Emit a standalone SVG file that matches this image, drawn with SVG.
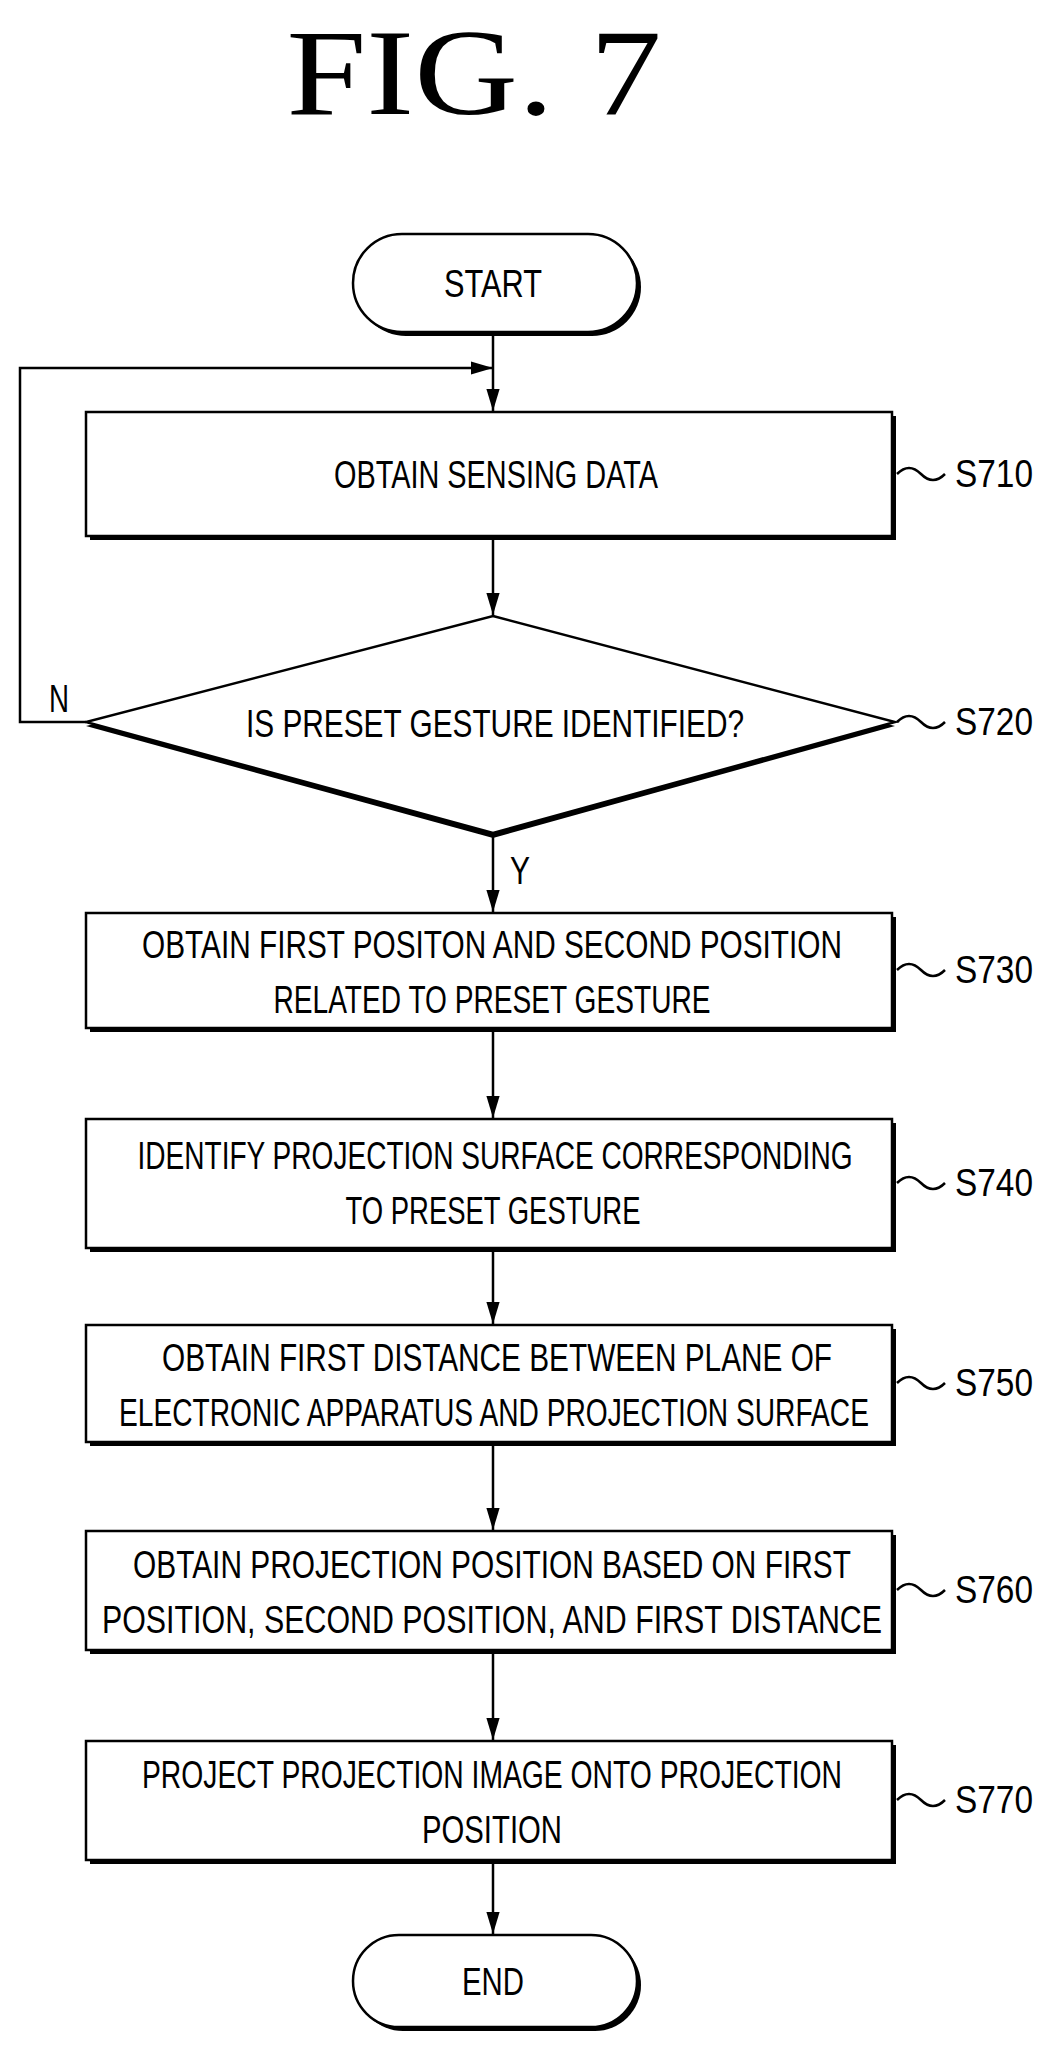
<svg xmlns="http://www.w3.org/2000/svg" width="1053" height="2064" viewBox="0 0 1053 2064">
<style>
.b{fill:#fff;stroke:#000;stroke-width:2.5}
.s{fill:#000}
.t{font-family:"Liberation Sans",sans-serif;font-size:39px;text-anchor:middle;fill:#000}
.l{fill:none;stroke:#000;stroke-width:2.5}
</style>
<defs>
<marker id="ar" viewBox="0 0 10 10" refX="10" refY="5" markerWidth="22" markerHeight="22" markerUnits="userSpaceOnUse" orient="auto"><path d="M0,2 L10,5 L0,8 z" fill="#000"/></marker>
</defs>
<text x="474" y="114" font-family="Liberation Serif,serif" font-size="122" text-anchor="middle" textLength="375" lengthAdjust="spacingAndGlyphs">FIG. 7</text>
<g id="connectors">
<line class="l" x1="493" y1="332" x2="493" y2="411" marker-end="url(#ar)"/>
<polyline class="l" points="86,722 20,722 20,368 493,368" marker-end="url(#ar)"/>
<line class="l" x1="493" y1="536" x2="493" y2="615" marker-end="url(#ar)"/>
<line class="l" x1="493" y1="833" x2="493" y2="912" marker-end="url(#ar)"/>
<line class="l" x1="493" y1="1028" x2="493" y2="1118" marker-end="url(#ar)"/>
<line class="l" x1="493" y1="1248" x2="493" y2="1324" marker-end="url(#ar)"/>
<line class="l" x1="493" y1="1442" x2="493" y2="1530" marker-end="url(#ar)"/>
<line class="l" x1="493" y1="1650" x2="493" y2="1740" marker-end="url(#ar)"/>
<line class="l" x1="493" y1="1860" x2="493" y2="1934" marker-end="url(#ar)"/>
<text class="t" x="59" y="712" textLength="20" lengthAdjust="spacingAndGlyphs">N</text>
<text class="t" x="520" y="884" textLength="20" lengthAdjust="spacingAndGlyphs">Y</text>
</g>
<g id="start"><rect class="s" x="357" y="238" width="284" height="98" rx="49"/><rect class="b" x="353" y="234" width="284" height="98" rx="49"/><text class="t" x="493" y="297" textLength="98" lengthAdjust="spacingAndGlyphs">START</text></g>
<g id="s710"><rect class="s" x="90" y="416" width="806" height="124"/><rect class="b" x="86" y="412" width="806" height="124"/><text class="t" x="496" y="488" textLength="324" lengthAdjust="spacingAndGlyphs">OBTAIN SENSING DATA</text></g>
<g id="s720"><polygon class="s" points="493,622 895,726 493,838 86,726"/><polygon class="b" points="493,616 895,722 493,833 86,722"/><text class="t" x="495" y="737" textLength="498" lengthAdjust="spacingAndGlyphs">IS PRESET GESTURE IDENTIFIED?</text></g>
<g id="s730"><rect class="s" x="90" y="917" width="806" height="115"/><rect class="b" x="86" y="913" width="806" height="115"/><text class="t" x="492" y="958" textLength="700" lengthAdjust="spacingAndGlyphs">OBTAIN FIRST POSITON AND SECOND POSITION</text><text class="t" x="492" y="1013" textLength="437" lengthAdjust="spacingAndGlyphs">RELATED TO PRESET GESTURE</text></g>
<g id="s740"><rect class="s" x="90" y="1123" width="806" height="129"/><rect class="b" x="86" y="1119" width="806" height="129"/><text class="t" x="495" y="1169" textLength="715" lengthAdjust="spacingAndGlyphs">IDENTIFY PROJECTION SURFACE CORRESPONDING</text><text class="t" x="493" y="1224" textLength="295" lengthAdjust="spacingAndGlyphs">TO PRESET GESTURE</text></g>
<g id="s750"><rect class="s" x="90" y="1329" width="806" height="117"/><rect class="b" x="86" y="1325" width="806" height="117"/><text class="t" x="497" y="1371" textLength="670" lengthAdjust="spacingAndGlyphs">OBTAIN FIRST DISTANCE BETWEEN PLANE OF</text><text class="t" x="494" y="1426" textLength="750" lengthAdjust="spacingAndGlyphs">ELECTRONIC APPARATUS AND PROJECTION SURFACE</text></g>
<g id="s760"><rect class="s" x="90" y="1535" width="806" height="119"/><rect class="b" x="86" y="1531" width="806" height="119"/><text class="t" x="492" y="1578" textLength="718" lengthAdjust="spacingAndGlyphs">OBTAIN PROJECTION POSITION BASED ON FIRST</text><text class="t" x="492" y="1633" textLength="780" lengthAdjust="spacingAndGlyphs">POSITION, SECOND POSITION, AND FIRST DISTANCE</text></g>
<g id="s770"><rect class="s" x="90" y="1745" width="806" height="119"/><rect class="b" x="86" y="1741" width="806" height="119"/><text class="t" x="492" y="1788" textLength="700" lengthAdjust="spacingAndGlyphs">PROJECT PROJECTION IMAGE ONTO PROJECTION</text><text class="t" x="492" y="1843" textLength="140" lengthAdjust="spacingAndGlyphs">POSITION</text></g>
<g id="end"><rect class="s" x="357" y="1939" width="284" height="92" rx="46"/><rect class="b" x="353" y="1935" width="284" height="92" rx="46"/><text class="t" x="493" y="1995" textLength="62" lengthAdjust="spacingAndGlyphs">END</text></g>
<g id="labels">
<path class="l" d="M897,474 q12,-12 24,0 t24,0"/><text class="t" x="994" y="487" textLength="78" lengthAdjust="spacingAndGlyphs">S710</text>
<path class="l" d="M897,722 q12,-12 24,0 t24,0"/><text class="t" x="994" y="735" textLength="78" lengthAdjust="spacingAndGlyphs">S720</text>
<path class="l" d="M897,970 q12,-12 24,0 t24,0"/><text class="t" x="994" y="983" textLength="78" lengthAdjust="spacingAndGlyphs">S730</text>
<path class="l" d="M897,1183 q12,-12 24,0 t24,0"/><text class="t" x="994" y="1196" textLength="78" lengthAdjust="spacingAndGlyphs">S740</text>
<path class="l" d="M897,1383 q12,-12 24,0 t24,0"/><text class="t" x="994" y="1396" textLength="78" lengthAdjust="spacingAndGlyphs">S750</text>
<path class="l" d="M897,1590 q12,-12 24,0 t24,0"/><text class="t" x="994" y="1603" textLength="78" lengthAdjust="spacingAndGlyphs">S760</text>
<path class="l" d="M897,1800 q12,-12 24,0 t24,0"/><text class="t" x="994" y="1813" textLength="78" lengthAdjust="spacingAndGlyphs">S770</text>
</g>
</svg>
